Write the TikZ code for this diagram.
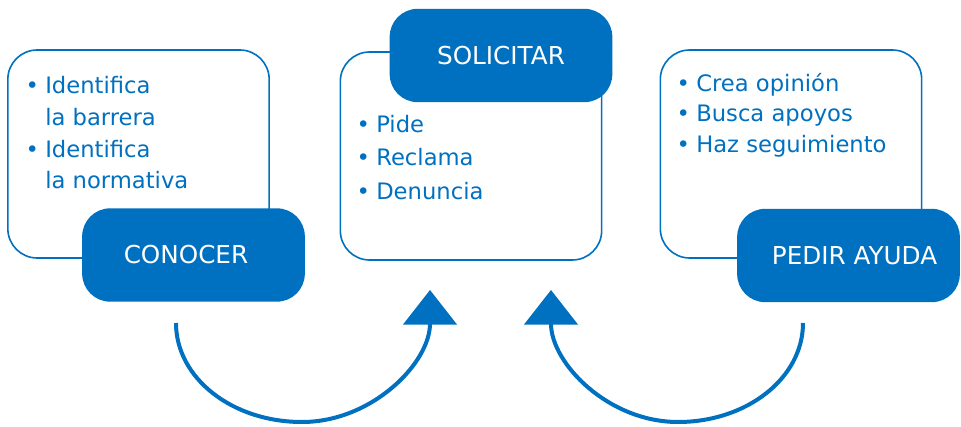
\documentclass[tikz,border=0pt]{standalone}
\usepackage{fontspec}
\setmainfont{DejaVu Sans}
\usetikzlibrary{arrows.meta}
\definecolor{azul}{RGB}{0,112,192}
\newcommand\itm{\makebox[14.8pt][l]{•}}
\newcommand\ind{\hspace*{14.8pt}}
\begin{document}
\begin{tikzpicture}[x=0.75pt,y=-0.75pt,
  outlinebox/.style={draw=azul,line width=1.2pt,rounded corners=22pt,minimum width=196pt,minimum height=156pt,inner sep=0pt},
  headbox/.style={fill=azul,draw=none,rounded corners=21pt,minimum width=167pt,minimum height=70pt,inner sep=0pt,text=white,font=\fontsize{18.5}{22}\selectfont},
  itemline/.style={anchor=base west,inner sep=0pt,text=azul,font=\fontsize{17}{20}\selectfont},
  flow/.style={draw=azul,line width=3pt,-{Triangle[width=40pt,length=26pt]}}]
\useasboundingbox (0,0) rectangle (961,427);
% outline boxes
\node[outlinebox] (lbox) at (138.5,154) {};
\node[outlinebox] (mbox) at (471,156) {};
\node[outlinebox] (rbox) at (791,154) {};
% header boxes
\node[headbox] (conocer) at (193.5,255) {\hspace*{-11.25pt}CONOCER};
\node[headbox] (solicitar) at (501,55.5) {SOLICITAR};
\node[headbox] (pedir) at (848.5,255.5) {\hspace*{9pt}PEDIR AYUDA};
% left items
\node[itemline] (l1) at (25.3,94) {\itm Identifica};
\node[itemline] (l2) at (25.3,126) {\ind la barrera};
\node[itemline] (l3) at (25.3,158) {\itm Identifica};
\node[itemline] (l4) at (25.3,189) {\ind la normativa};
% middle items
\node[itemline] (m1) at (356.3,133) {\itm Pide};
\node[itemline] (m2) at (356.3,166) {\itm Reclama};
\node[itemline] (m3) at (356.3,200) {\itm Denuncia};
% right items
\node[itemline] (r1) at (676.3,92) {\itm Crea opinión};
\node[itemline] (r2) at (676.3,122) {\itm Busca apoyos};
\node[itemline] (r3) at (676.3,153) {\itm Haz seguimiento};
% arrows
\coordinate (c1s) at (176,323);
\coordinate (c1b) at (302,422);
\coordinate (c1e) at (430,290);
\draw[flow] (c1s) .. controls (176,378) and (232,422) .. (c1b) .. controls (372,422) and (430,363) .. (c1e);
\coordinate (c2s) at (803,323);
\coordinate (c2b) at (678,422);
\coordinate (c2e) at (551,290);
\draw[flow] (c2s) .. controls (803,378) and (747,422) .. (c2b) .. controls (608,422) and (551,363) .. (c2e);
\end{tikzpicture}
\end{document}
